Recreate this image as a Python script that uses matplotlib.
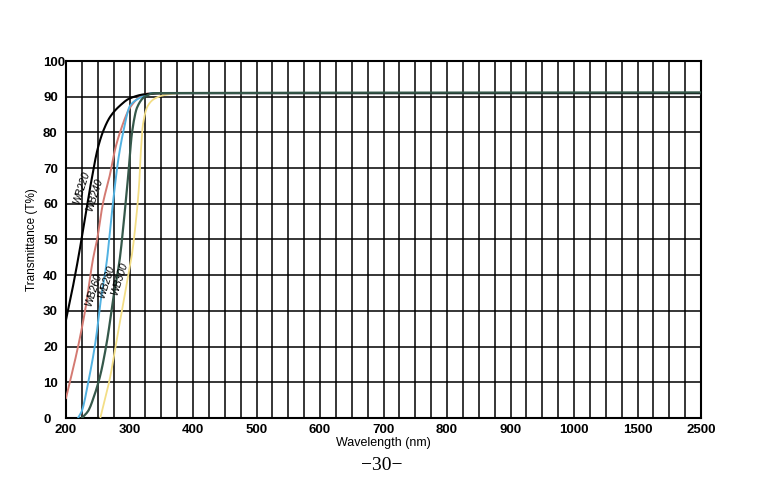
import numpy as np
import matplotlib
matplotlib.use("Agg")
from matplotlib import pyplot as plt

# wavelength (nm) / transmittance (%)
wb220_nm = [200, 210, 220, 230, 240, 250, 260, 270, 285, 300, 325, 364, 2500]
wb220_t = [27.5, 36, 45.5, 56, 66.5, 75.5, 81, 84.5, 87.5, 89.5, 90.7, 91, 91]
wb240_nm = [200, 219, 230, 243, 249, 258, 269, 277, 285, 301, 317, 332, 2500]
wb240_t = [5.6, 20, 30, 45, 50, 60, 68, 75, 80, 87, 90, 91, 91]
wb260_nm = [219, 225, 235, 247, 254, 265, 269, 277, 282, 290, 301, 320, 335, 2500]
wb260_t = [0, 2, 10, 22, 32, 45, 52, 65, 72, 80, 87.5, 90, 91, 91]
wb280_nm = [225, 235, 244, 254, 265, 274, 285, 291, 298, 304, 312, 324, 340, 2500]
wb280_t = [0, 2, 6, 12, 22, 33, 45, 55, 68, 80, 87, 90, 91, 91.2]
wb300_nm = [254, 261, 269, 280, 288, 298, 304, 310, 315, 318, 321, 329, 340, 356, 380, 2500]
wb300_t = [0, 5, 11, 22, 30, 40, 46, 55, 65, 75, 82, 87.5, 89.5, 90.5, 91, 91]

tick_nm = [200, 300, 400, 500, 600, 700, 800, 900, 1000, 1500, 2500]
tick_pos = [0, 1, 2, 3, 4, 5, 6, 7, 8, 9, 10]

# the printed axis is linear to 1000 nm, then squeezed
knots_nm = [200, 1000, 1500, 2500]
knots_u = [0, 8, 9, 10]
def xs(w):
    return np.interp(w, knots_nm, knots_u)

def pchip(x, y, xn):
    # monotone cubic so the hand-drawn curves stay smooth
    x = np.asarray(x, float); y = np.asarray(y, float)
    h = np.diff(x); d = np.diff(y) / h
    m = np.zeros_like(y)
    for i in range(1, len(x) - 1):
        if d[i-1] * d[i] > 0:
            w1 = 2*h[i] + h[i-1]; w2 = h[i] + 2*h[i-1]
            m[i] = (w1 + w2) / (w1/d[i-1] + w2/d[i])
    m[0] = d[0]; m[-1] = d[-1]
    i = np.clip(np.searchsorted(x, xn) - 1, 0, len(h) - 1)
    t = (xn - x[i]) / h[i]
    h00 = 2*t**3 - 3*t**2 + 1; h10 = t**3 - 2*t**2 + t
    h01 = -2*t**3 + 3*t**2; h11 = t**3 - t**2
    return h00*y[i] + h10*h[i]*m[i] + h01*y[i+1] + h11*h[i]*m[i+1]

def curve(nm, t, **kw):
    u = xs(nm)
    un = np.linspace(u[0], u[-1], 800)
    ax.plot(un, pchip(u, t, un), **kw)

fig = plt.figure(figsize=(7.68, 4.94), dpi=100)
ax = fig.add_axes([66/768, 76/494, 635/768, 357/494])

for u in np.arange(0, 10.01, 0.25):
    ax.axvline(u, color="black", lw=1.1, zorder=1)
for t in range(10, 100, 10):
    ax.axhline(t, color="black", lw=1.1, zorder=1)

curve(wb300_nm, wb300_t, color="#f3de86", lw=1.3, zorder=3)
curve(wb240_nm, wb240_t, color="#d47a72", lw=1.4, zorder=3)
curve(wb260_nm, wb260_t, color="#52b2e2", lw=1.4, zorder=3)
curve(wb220_nm, wb220_t, color="black", lw=1.5, zorder=4)
curve(wb280_nm, wb280_t, color="#35584a", lw=1.6, zorder=5)

ax.set_xlim(0, 10)
ax.set_ylim(0, 100)
ax.set_xticks(tick_pos)
ax.set_xticklabels([str(n) for n in tick_nm])
ax.set_yticks(range(0, 101, 10))
ax.tick_params(length=0, labelsize=9.5)
ax.tick_params(axis="x", pad=4)
ax.tick_params(axis="y", pad=16.5)
for lab in ax.get_xticklabels() + ax.get_yticklabels():
    lab.set_fontweight("bold")
    lab.set_family("Liberation Sans")
for lab in ax.get_yticklabels():
    lab.set_horizontalalignment("left")
for s in ax.spines.values():
    s.set_linewidth(1.5)

ax.set_xlabel("Wavelength (nm)", fontsize=9, family="Liberation Sans", labelpad=1)
ax.set_ylabel("Transmittance (T%)", fontsize=8.5, family="Liberation Sans", labelpad=4)

lab_kw = dict(fontsize=7.5, family="Liberation Sans", style="italic",
              rotation=72, ha="center", va="center", zorder=6)
ax.text(xs(224), 64.5, "WB220", **lab_kw)
ax.text(xs(245), 62.5, "WB240", **lab_kw)
ax.text(xs(244), 36, "WB260", **lab_kw)
ax.text(xs(264), 38, "WB280", **lab_kw)
ax.text(xs(284), 39, "WB300", **lab_kw)

fig.text(382/768, 1 - 465/494, "\u221230\u2212", fontsize=14, family="Liberation Serif",
         ha="center", va="center")

fig.savefig("out.png", dpi=100)
